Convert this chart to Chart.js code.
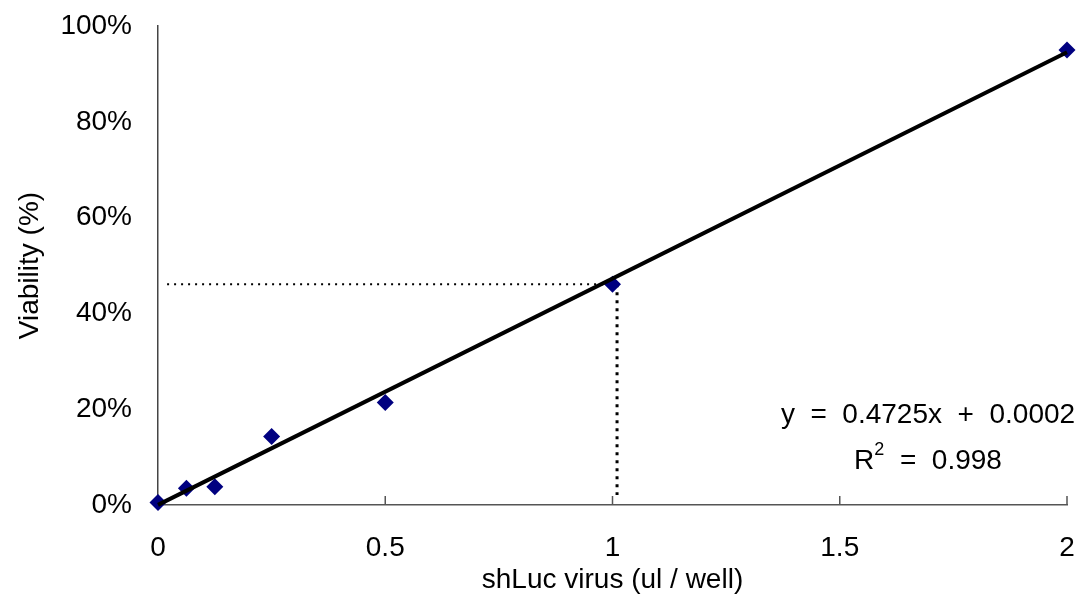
<!DOCTYPE html>
<html>
<head>
<meta charset="utf-8">
<script src="https://cdn.jsdelivr.net/npm/chart.js@4"></script>
<style>
  html, body { margin: 0; padding: 0; background: #fff; }
  #wrap { width: 1081px; height: 603px; }
</style>
</head>
<body>
<div id="wrap"><canvas id="viabilityChart" width="1081" height="603"></canvas></div>
<script>
// virus dose (ul / well) vs viability
const doses = [0, 0.0625, 0.125, 0.25, 0.5, 1, 2];
const viability = [0.005, 0.035, 0.038, 0.143, 0.214, 0.461, 0.95];

// linear trend line from the fit
const slope = 0.4725;
const intercept = 0.0002;
const rSquared = '0.998';
const fitRange = [0, 2];

// dotted guide lines (read-off at 46%)
const guideY = [0.461, 0.461];
const guideX = [0.02, 1.01];
const dropX = [1.01, 1.01];
const dropY = [0.461, 0.021];

const font = 'Arial, "Liberation Sans", sans-serif';
const fs = 28;

const points = doses.map((d, i) => ({ x: d, y: viability[i] }));
const fitLine = fitRange.map(x => ({ x: x, y: slope * x + intercept }));
const hLine = guideX.map((x, i) => ({ x: x, y: guideY[i] }));
const vLine = dropX.map((x, i) => ({ x: x, y: dropY[i] }));

// tick marks pointing into the plot + the equation text
const extras = {
    id: 'extras',
    afterDatasetsDraw(chart) {
        const ctx = chart.ctx;
        const xs = chart.scales.x;
        const bottom = chart.chartArea.bottom;
        ctx.save();
        ctx.strokeStyle = '#555';
        ctx.lineWidth = 1.5;
        xs.ticks.forEach(t => {
            if (t.value === 0) return;
            const px = xs.getPixelForValue(t.value);
            ctx.beginPath();
            ctx.moveTo(px, bottom);
            ctx.lineTo(px, bottom - 9);
            ctx.stroke();
        });

        ctx.fillStyle = '#000';
        ctx.font = fs + 'px ' + font;
        ctx.textBaseline = 'middle';
        ctx.textAlign = 'center';
        const cx = 928;
        ctx.fillText('y  =  ' + slope + 'x  +  ' + intercept.toFixed(4), cx, 415);

        // R² with a raised 2
        const a = 'R', b = '  =  ' + rSquared;
        const wa = ctx.measureText(a).width;
        const wb = ctx.measureText(b).width;
        ctx.font = '18px ' + font;
        const ws = ctx.measureText('2').width;
        const start = cx - (wa + ws + wb) / 2;
        ctx.textAlign = 'left';
        ctx.font = fs + 'px ' + font;
        ctx.fillText(a, start, 461);
        ctx.font = '18px ' + font;
        ctx.fillText('2', start + wa, 450);
        ctx.font = fs + 'px ' + font;
        ctx.fillText(b, start + wa + ws, 461);
        ctx.restore();
    }
};

const config = {
    type: 'scatter',
    data: {
        datasets: [
            {
                label: 'fit',
                data: fitLine,
                showLine: true,
                borderColor: '#000',
                borderWidth: 4,
                pointRadius: 0,
                clip: false
            },
            {
                label: 'viability',
                data: points,
                pointStyle: 'rectRot',
                pointRadius: 8.5,
                backgroundColor: '#000080',
                borderColor: '#000080',
                borderWidth: 0,
                clip: false
            },
            {
                label: 'guide',
                data: hLine,
                showLine: true,
                borderColor: '#000',
                borderWidth: 2,
                borderDash: [2, 5],
                pointRadius: 0
            },
            {
                label: 'drop',
                data: vLine,
                showLine: true,
                borderColor: '#000',
                borderWidth: 3,
                borderDash: [3, 5],
                pointRadius: 0
            }
        ]
    },
    options: {
        responsive: false,
        animation: false,
        layout: { padding: { left: 0, right: 14, top: 26, bottom: 0 } },
        plugins: {
            legend: { display: false },
            tooltip: { enabled: false }
        },
        scales: {
            x: {
                type: 'linear',
                min: 0,
                max: 2,
                ticks: {
                    stepSize: 0.5,
                    color: '#000',
                    padding: 26,
                    font: { family: font, size: fs },
                    callback: v => String(v)
                },
                grid: { display: false, drawTicks: false },
                border: { display: true, color: '#555', width: 1.5 },
                title: {
                    display: true,
                    text: 'shLuc virus (ul / well)',
                    color: '#000',
                    font: { family: font, size: fs },
                    padding: { top: 0, bottom: 6 }
                },
                afterFit: s => {
                    s.height = 98;
                    s.paddingLeft = 0;
                    s.paddingRight = 0;
                }
            },
            y: {
                min: 0,
                max: 1,
                ticks: {
                    stepSize: 0.2,
                    color: '#000',
                    padding: 26,
                    font: { family: font, size: fs },
                    callback: v => Math.round(v * 100) + '%'
                },
                grid: { display: false, drawTicks: false },
                border: { display: true, color: '#444', width: 1.5 },
                title: {
                    display: true,
                    text: 'Viability (%)',
                    color: '#000',
                    font: { family: font, size: fs },
                    padding: { top: 13, bottom: 0 }
                },
                afterFit: s => {
                    s.width = 158;
                    s.paddingTop = 0;
                    s.paddingBottom = 0;
                }
            }
        }
    },
    plugins: [extras]
};

var viabilityChart = new Chart(document.getElementById('viabilityChart'), config);
</script>
</body>
</html>
